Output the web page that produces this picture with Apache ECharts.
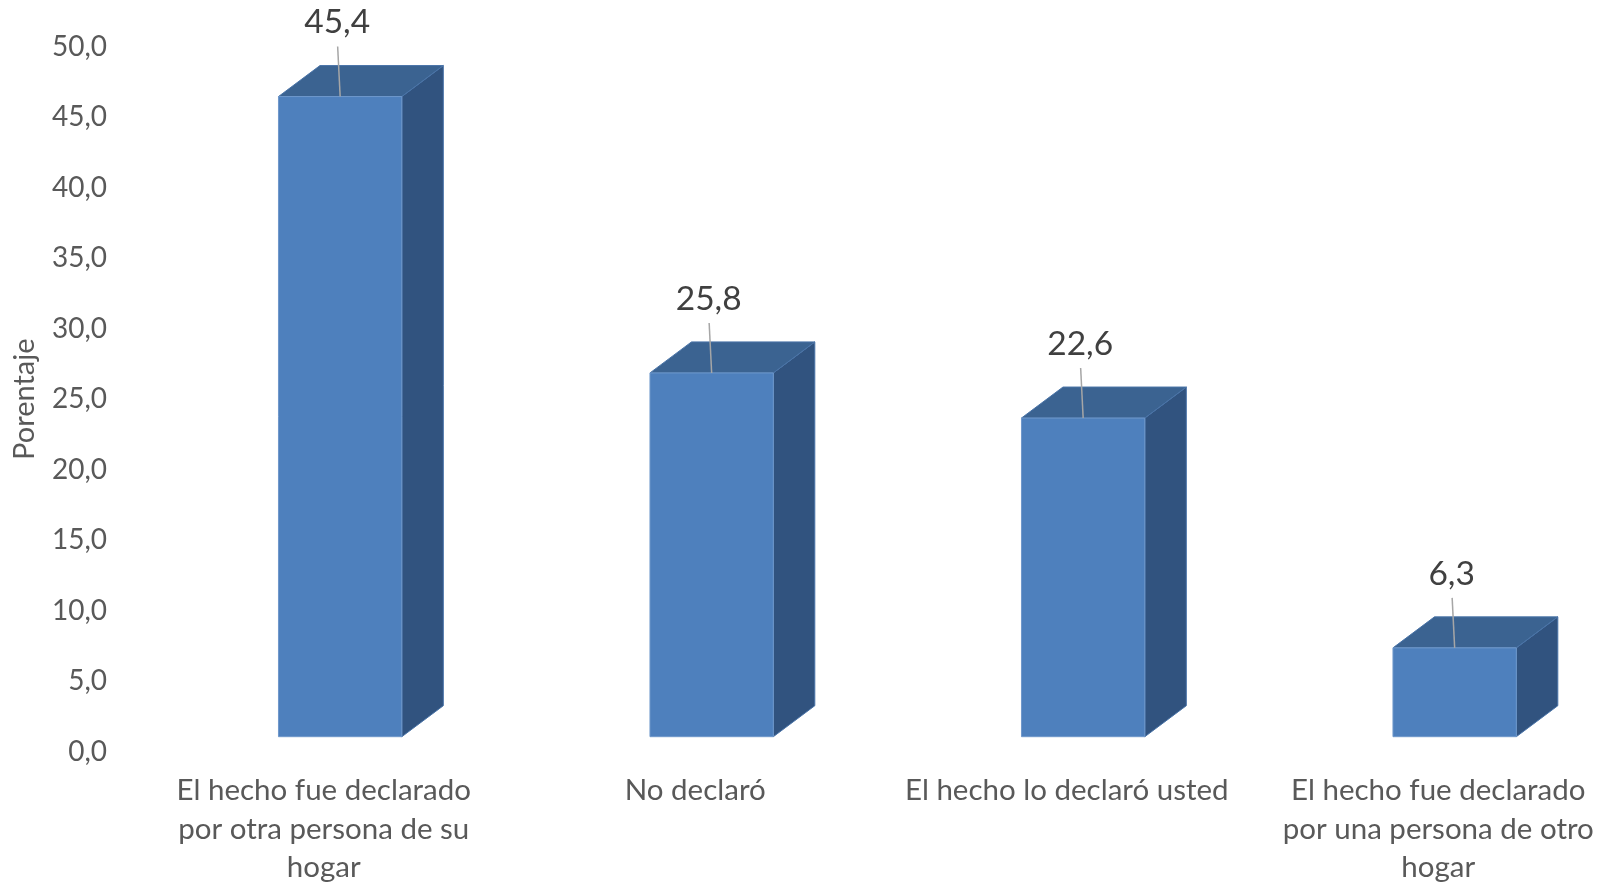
<!DOCTYPE html>
<html>
<head>
<meta charset="utf-8">
<script src="https://cdn.jsdelivr.net/npm/echarts@6/dist/echarts.min.js"></script>
<style>
html,body{margin:0;padding:0;background:#fff;}
#chart{width:1606px;height:885px;}
</style>
</head>
<body>
<div id="chart"></div>
<script>
const categories = [
  "El hecho fue declarado\npor otra persona de su\nhogar",
  "No declaró",
  "El hecho lo declaró usted",
  "El hecho fue declarado\npor una persona de otro\nhogar"
];
const values = [45.4, 25.8, 22.6, 6.3];
const yTicks = [0, 5, 10, 15, 20, 25, 30, 35, 40, 45, 50];
const yTitle = "Porentaje";

const fmt = v => v.toFixed(1).replace('.', ',');
const chart = echarts.init(document.getElementById('chart'));
const FONT = 'Lato, "Noto Sans", sans-serif';

chart.setOption({
  animation: false,
  backgroundColor: '#ffffff',
  grid: {left: 138, top: 46.7, width: 1486, height: 705, containLabel: false, outerBoundsMode: 'none'},
  xAxis: {
    type: 'category',
    data: categories,
    axisLine: {show: false},
    axisTick: {show: false},
    axisLabel: {
      interval: 0, margin: 20, color: '#595959', fontSize: 29.5,
      fontFamily: FONT, lineHeight: 38.4, align: 'center'
    }
  },
  yAxis: {
    type: 'value',
    min: yTicks[0], max: yTicks[yTicks.length - 1], interval: yTicks[1] - yTicks[0],
    splitLine: {show: false},
    axisLine: {show: false},
    axisTick: {show: false},
    axisLabel: {margin: 31, color: '#595959', fontSize: 28, fontFamily: FONT, formatter: fmt},
    name: yTitle, nameLocation: 'middle', nameRotate: 90, nameGap: 99,
    nameTextStyle: {color: '#595959', fontSize: 29, fontFamily: FONT}
  },
  series: [{
    type: 'custom',
    clip: false,
    data: values.map((v, i) => [i, v]),
    renderItem: function (params, api) {
      const idx = api.value(0), v = api.value(1);
      const base = api.coord([idx, 0]);
      const top = api.coord([idx, v]);
      const band = api.size([1, 0])[0];
      const w = band * 0.332;
      const cx = base[0] + 16.4;
      const yb = base[1] - 15, yt = top[1] - 15;
      const x0 = cx - w / 2, x1 = cx + w / 2;
      const dx = 41.5, dy = -31;
      const labelY = yt - 74;
      return {
        type: 'group',
        children: [
          {type: 'polygon', shape: {points: [[x1, yt], [x1 + dx, yt + dy], [x1 + dx, yb + dy], [x1, yb]]},
           style: {fill: '#31537f', stroke: '#4a74a8', lineWidth: 1}},
          {type: 'polygon', shape: {points: [[x0, yt], [x0 + dx, yt + dy], [x1 + dx, yt + dy], [x1, yt]]},
           style: {fill: '#3b6391', stroke: '#4a74a8', lineWidth: 1}},
          {type: 'rect', shape: {x: x0, y: yt, width: w, height: yb - yt},
           style: {fill: '#4e80bd', stroke: '#6f98cb', lineWidth: 1}},
          {type: 'line', shape: {x1: cx - 2.5, y1: labelY + 24, x2: cx, y2: yt},
           style: {stroke: '#a6a6a6', lineWidth: 1.5}},
          {type: 'text', style: {text: fmt(v), x: cx - 3, y: labelY, textAlign: 'center',
           textVerticalAlign: 'middle', fill: '#404040', font: '33.5px ' + FONT}}
        ]
      };
    }
  }]
});
</script>
</body>
</html>
